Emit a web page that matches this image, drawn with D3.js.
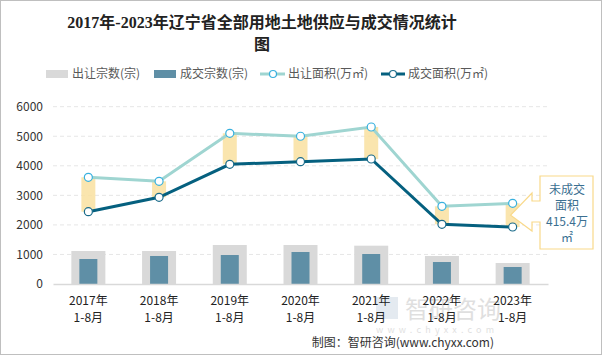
<!DOCTYPE html>
<html><head><meta charset="utf-8">
<script src="https://cdn.jsdelivr.net/npm/d3@7"></script>
<style>body{margin:0;background:#fff}svg{display:block}</style>
</head><body>
<svg id="c" width="602" height="355"></svg>
<script>
const categories = ["2017年\n1-8月","2018年\n1-8月","2019年\n1-8月","2020年\n1-8月","2021年\n1-8月","2022年\n1-8月","2023年\n1-8月"];
const supplyCount = [1117,1117,1320,1320,1297,948,711];
const dealCount = [846,948,981,1083,1015,744,575];
const supplyArea = [3611,3475,5100,5000,5313,2629,2731];
const dealArea = [2447,2934,4050,4140,4230,2020,1929];
const yTicks = [0,1000,2000,3000,4000,5000,6000];
const seriesNames = ["出让宗数(宗)","成交宗数(宗)","出让面积(万㎡)","成交面积(万㎡)"];
const calloutLines = ["未成交","面积","415.4万","㎡"];

const svg = d3.select("#c");
const font = "'Noto Sans CJK SC','Microsoft YaHei',sans-serif";
svg.append("rect").attr("x",0.5).attr("y",0.5).attr("width",601).attr("height",354)
  .attr("fill","#fff").attr("stroke","#bfbfbf");

const x = d3.scaleBand().domain(categories).range([53,548]);
const y = d3.scaleLinear().domain([0,6000]).range([284,106.7]);
const cx = d => x(d) + x.bandwidth()/2;

// title
const title = svg.append("text").attr("x",262).attr("text-anchor","middle")
  .attr("font-family","'Liberation Serif','Noto Sans CJK SC',serif").attr("font-weight","bold")
  .attr("font-size",16).attr("fill","#222");
title.append("tspan").attr("x",262).attr("y",28).text("2017年-2023年辽宁省全部用地土地供应与成交情况统计");
title.append("tspan").attr("x",262).attr("y",50).text("图");

// legend
const lg = svg.append("g").attr("font-family",font).attr("font-size",12).attr("fill","#595959");
lg.append("rect").attr("x",46).attr("y",70).attr("width",22).attr("height",8).attr("fill","#d9d9d9");
lg.append("text").attr("x",72).attr("y",78).text(seriesNames[0]);
lg.append("rect").attr("x",154).attr("y",70).attr("width",22).attr("height",8).attr("fill","#5f8fa6");
lg.append("text").attr("x",180).attr("y",78).text(seriesNames[1]);
lg.append("line").attr("x1",260).attr("x2",285).attr("y1",74).attr("y2",74).attr("stroke","#9fd5d1").attr("stroke-width",3);
lg.append("circle").attr("cx",273).attr("cy",74).attr("r",3.5).attr("fill","#fff").attr("stroke","#38b0de").attr("stroke-width",1.2);
lg.append("text").attr("x",288).attr("y",78).text(seriesNames[2]);
lg.append("line").attr("x1",381).attr("x2",405).attr("y1",74).attr("y2",74).attr("stroke","#05607f").attr("stroke-width",3);
lg.append("circle").attr("cx",393).attr("cy",74).attr("r",3.5).attr("fill","#fff").attr("stroke","#1a6b8a").attr("stroke-width",1.2);
lg.append("text").attr("x",408).attr("y",78).text(seriesNames[3]);

// grid
svg.append("g").selectAll("line").data(yTicks.filter(t=>t>0)).join("line")
  .attr("x1",53).attr("x2",548).attr("y1",d=>y(d)).attr("y2",d=>y(d))
  .attr("stroke","#e6e6e6").attr("stroke-dasharray","4,3");

// y axis
const ya = svg.append("g").attr("transform","translate(53,0)")
  .call(d3.axisLeft(y).tickValues(yTicks).tickFormat(d3.format("d")).tickSize(0).tickPadding(10));
ya.select(".domain").remove();
ya.selectAll("text").attr("font-family",font).attr("font-size",12).attr("fill","#333");

// bars
svg.append("g").selectAll("rect").data(categories).join("rect")
  .attr("x",d=>cx(d)-17).attr("width",34)
  .attr("y",(d,i)=>y(supplyCount[i])).attr("height",(d,i)=>y(0)-y(supplyCount[i]))
  .attr("fill","#d9d9d9");
svg.append("g").selectAll("rect").data(categories).join("rect")
  .attr("x",d=>cx(d)-9).attr("width",18)
  .attr("y",(d,i)=>y(dealCount[i])).attr("height",(d,i)=>y(0)-y(dealCount[i]))
  .attr("fill","#5f8fa6");

// x axis
const xa = svg.append("g").attr("transform","translate(0,284)").call(d3.axisBottom(x).tickSize(0).tickFormat(""));
xa.select(".domain").attr("stroke","#d9d9d9").attr("stroke-width",1.5);

// watermark (behind labels)
const wm = svg.append("g").attr("opacity",0.3).attr("font-family",font);
wm.append("rect").attr("x",376).attr("y",297).attr("width",22).attr("height",22).attr("fill","#a9bcd0");
wm.append("text").attr("x",405).attr("y",318).attr("font-size",24).attr("fill","#999").text("智研咨询");
wm.append("text").attr("x",376).attr("y",333).attr("font-size",9).attr("fill","#999").attr("letter-spacing",4.2).text("www.chyxx.com");

const xl = svg.append("g").attr("font-family",font).attr("font-size",12).attr("fill","#222").attr("text-anchor","middle");
categories.forEach(c=>{
  const parts = c.split("\n");
  const t = xl.append("text");
  t.append("tspan").attr("x",cx(c)).attr("y",305).text(parts[0]);
  t.append("tspan").attr("x",cx(c)).attr("y",322).text(parts[1]);
});

// bands
svg.append("g").selectAll("rect").data(categories).join("rect")
  .attr("x",d=>cx(d)-7).attr("width",14)
  .attr("y",(d,i)=>y(supplyArea[i])).attr("height",(d,i)=>y(dealArea[i])-y(supplyArea[i]))
  .attr("fill","#f9e0a0").attr("opacity",0.85);

// lines
const line = d3.line().x(d=>d[0]).y(d=>d[1]);
svg.append("path").attr("d",line(categories.map((c,i)=>[cx(c),y(supplyArea[i])])))
  .attr("fill","none").attr("stroke","#9fd5d1").attr("stroke-width",3);
svg.append("path").attr("d",line(categories.map((c,i)=>[cx(c),y(dealArea[i])])))
  .attr("fill","none").attr("stroke","#05607f").attr("stroke-width",3);
svg.append("g").selectAll("circle").data(categories).join("circle")
  .attr("cx",d=>cx(d)).attr("cy",(d,i)=>y(supplyArea[i])).attr("r",4)
  .attr("fill","#fff").attr("stroke","#38b0de").attr("stroke-width",1.2);
svg.append("g").selectAll("circle").data(categories).join("circle")
  .attr("cx",d=>cx(d)).attr("cy",(d,i)=>y(dealArea[i])).attr("r",4)
  .attr("fill","#fff").attr("stroke","#1a6b8a").attr("stroke-width",1.2);

// callout
const last = categories[categories.length-1];
const px = cx(last)-2, py = (y(supplyArea[6])+y(dealArea[6]))/2;
const bx0=540, bx1=593, by0=176, by1=249;
svg.append("path").attr("d",
  `M${bx0},${by0} L${bx1},${by0} L${bx1},${by1} L${bx0},${by1} L${bx0},222 L${bx0-8},222 L${bx0-8},231 L${px},${py} L${bx0-8},193 L${bx0-8},201 L${bx0},201 Z`)
  .attr("fill","#fff").attr("stroke","#f9d98a").attr("stroke-width",1.2);
const ct = svg.append("text").attr("font-family",font).attr("font-size",12).attr("fill","#3b6f91").attr("text-anchor","middle");
calloutLines.forEach((s,i)=>ct.append("tspan").attr("x",567).attr("y",194+i*16).text(s));

// footer
svg.append("text").attr("x",494).attr("y",347).attr("text-anchor","end").attr("font-family",font)
  .attr("font-size",12).attr("fill","#333").text("制图：智研咨询(www.chyxx.com)");
</script>
</body></html>
